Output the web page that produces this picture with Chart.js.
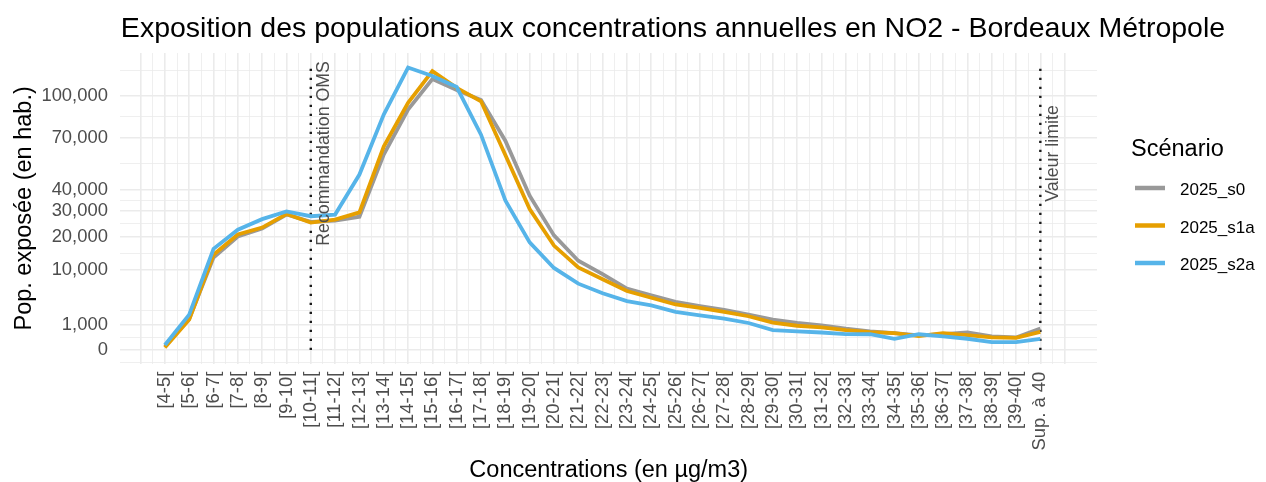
<!DOCTYPE html>
<html lang="fr">
<head>
<meta charset="utf-8">
<title>Exposition NO2 - Bordeaux Métropole</title>
<script src="https://cdn.jsdelivr.net/npm/chart.js@4.4.1/dist/chart.umd.min.js"></script>
<style>
  html, body { margin: 0; padding: 0; background: #ffffff; }
  #wrap { width: 1266px; height: 482px; }
</style>
</head>
<body>
<div id="wrap"><canvas id="expoChart" width="1266" height="482"></canvas></div>
<script>
// Classes de concentration annuelle en NO2 (µg/m3)
const classes = ['[4-5[', '[5-6[', '[6-7[', '[7-8[', '[8-9[', '[9-10[', '[10-11[', '[11-12[',
  '[12-13[', '[13-14[', '[14-15[', '[15-16[', '[16-17[', '[17-18[', '[18-19[', '[19-20[',
  '[20-21[', '[21-22[', '[22-23[', '[23-24[', '[24-25[', '[25-26[', '[26-27[', '[27-28[',
  '[28-29[', '[29-30[', '[30-31[', '[31-32[', '[32-33[', '[33-34[', '[34-35[', '[35-36[',
  '[36-37[', '[37-38[', '[38-39[', '[39-40[', 'Sup. à 40'];

// Population exposée (hab.) par scénario
const s0 = [20, 1500, 13300, 20000, 22900, 28500, 25500, 26000, 27600, 59300, 89700, 114000,
  105000, 97000, 68000, 37000, 20400, 12400, 8950, 5850, 4650, 3620, 3000, 2500, 1950, 1450,
  1150, 950, 710, 540, 450, 340, 400, 480, 290, 250, 720];
const s1a = [10, 1450, 14100, 20750, 23300, 28700, 25200, 26400, 29400, 64200, 94800, 120700,
  106700, 96000, 59000, 30900, 16960, 10600, 7800, 5420, 4250, 3230, 2760, 2260, 1780, 1170,
  920, 800, 620, 500, 450, 300, 450, 350, 250, 230, 520];
const s2a = [40, 1950, 15900, 22500, 26600, 29800, 27800, 28500, 47800, 86000, 123800, 116500,
  107300, 72000, 34700, 18000, 10470, 6850, 5020, 3720, 3090, 2260, 1880, 1540, 1140, 620,
  540, 480, 400, 390, 200, 390, 290, 200, 100, 100, 200];

const scenarioNames = ['2025_s0', '2025_s1a', '2025_s2a'];
const scenarioColors = ['#999999', '#E69F00', '#56B4E9'];

// Graduations de l'axe Y (échelle racine carrée)
const yBreaks = [0, 1000, 10000, 20000, 30000, 40000, 70000, 100000];
const yMinorBreaks = [-250, 250, 2400, 14600, 24700, 34800, 54000, 84400, 121000];

// Seuils réglementaires
const refLines = [
  { index: 6, label: 'Recommandation OMS' },
  { index: 36, label: 'Valeur limite' }
];
const refLabelValue = 60000;

const FONT = '"Liberation Sans", Arial, sans-serif';
const sq = v => Math.sign(v) * Math.sqrt(Math.abs(v));
const isMajorY = val => yBreaks.some(b => Math.abs(sq(b) - val) < 1e-6);

const seriesList = [s0, s1a, s2a];
const allValues = [].concat(s0, s1a, s2a);
const maxValue = Math.max(...allValues);

// Titre, seuils et légende dessinés sur le canvas
const decorPlugin = {
    id: 'decor',
    beforeDatasetsDraw(chart) {
        const ctx = chart.ctx;
        const xs = chart.scales.x, ys = chart.scales.y;
        ctx.save();
        ctx.strokeStyle = '#1a1a1a';
        ctx.lineWidth = 2.4;
        ctx.setLineDash([2.4, 6.6]);
        refLines.forEach(r => {
            const px = xs.getPixelForValue(r.index);
            ctx.beginPath();
            ctx.moveTo(px, ys.getPixelForValue(0));
            ctx.lineTo(px, ys.getPixelForValue(sq(maxValue)));
            ctx.stroke();
        });
        ctx.restore();
    },
    afterDraw(chart) {
        const ctx = chart.ctx;
        const xs = chart.scales.x, ys = chart.scales.y;
        ctx.save();
        // libellés des seuils
        ctx.fillStyle = '#4D4D4D';
        ctx.font = '17.8px ' + FONT;
        ctx.textAlign = 'center';
        ctx.textBaseline = 'middle';
        refLines.forEach(r => {
            const px = xs.getPixelForValue(r.index) + 13;
            const py = ys.getPixelForValue(sq(refLabelValue));
            ctx.save();
            ctx.translate(px, py);
            ctx.rotate(-Math.PI / 2);
            ctx.fillText(r.label, 0, 0);
            ctx.restore();
        });

        // titre
        ctx.fillStyle = '#000000';
        ctx.font = '28.5px ' + FONT;
        ctx.textAlign = 'center';
        ctx.textBaseline = 'alphabetic';
        ctx.fillText('Exposition des populations aux concentrations annuelles en NO2 - Bordeaux Métropole', 673, 37);

        // légende
        ctx.textAlign = 'left';
        ctx.font = '23.5px ' + FONT;
        ctx.fillText('Scénario', 1131, 156);
        ctx.font = '17px ' + FONT;
        scenarioNames.forEach((name, i) => {
            const y = 188 + i * 37.5;
            ctx.strokeStyle = scenarioColors[i];
            ctx.lineWidth = 4.5;
            ctx.beginPath();
            ctx.moveTo(1135, y);
            ctx.lineTo(1165, y);
            ctx.stroke();
            ctx.fillStyle = '#000000';
            ctx.fillText(name, 1180, y + 7);
        });
        ctx.restore();
    }
};

const expoChart = new Chart(document.getElementById('expoChart'), {
    type: 'line',
    data: {
        datasets: seriesList.map((serie, i) => ({
            label: scenarioNames[i],
            data: serie.map((v, k) => ({ x: k, y: sq(v) })),
            borderColor: scenarioColors[i],
            backgroundColor: scenarioColors[i],
            borderWidth: 3.8,
            pointRadius: 0,
            tension: 0,
            fill: false,
            order: 3 - i
        }))
    },
    options: {
        responsive: false,
        animation: false,
        devicePixelRatio: 1,
        layout: {
            padding: { top: 53, right: 169, left: 12.7, bottom: 0 }
        },
        plugins: {
            legend: { display: false },
            title: { display: false },
            tooltip: { enabled: false }
        },
        scales: {
            x: {
                type: 'linear',
                min: -1.83,
                max: 38.33,
                afterBuildTicks: axis => {
                    const t = [];
                    for (let v = -1; v <= 37; v += 0.5) t.push({ value: v });
                    axis.ticks = t;
                },
                grid: {
                    color: '#EBEBEB',
                    lineWidth: c => (c.tick && Number.isInteger(c.tick.value)) ? 1.6 : 0.8,
                    drawTicks: false
                },
                border: { display: false },
                ticks: {
                    autoSkip: false,
                    maxRotation: 90,
                    minRotation: 90,
                    padding: 8,
                    color: '#4D4D4D',
                    font: { size: 18.4, family: FONT },
                    callback: v => (Number.isInteger(v) && classes[v]) ? classes[v] : ''
                },
                title: {
                    display: true,
                    text: 'Concentrations (en µg/m3)',
                    color: '#000000',
                    font: { size: 23.5, family: FONT, lineHeight: 1.0 },
                    padding: { top: 0, bottom: 0 }
                }
            },
            y: {
                type: 'linear',
                min: -17,
                max: 370,
                afterBuildTicks: axis => {
                    axis.ticks = yBreaks.concat(yMinorBreaks)
                        .map(v => ({ value: sq(v) }))
                        .sort((a, b) => a.value - b.value);
                },
                grid: {
                    color: '#EBEBEB',
                    lineWidth: c => (c.tick && isMajorY(c.tick.value)) ? 1.6 : 0.8,
                    drawTicks: false
                },
                border: { display: false },
                ticks: {
                    autoSkip: false,
                    padding: 12.5,
                    color: '#4D4D4D',
                    font: { size: 18.4, family: FONT },
                    callback: v => isMajorY(v) ? Math.round(v * v).toLocaleString('en-US') : ''
                },
                title: {
                    display: true,
                    text: 'Pop. exposée (en hab.)',
                    color: '#000000',
                    font: { size: 23.5, family: FONT, lineHeight: 1.0 },
                    padding: { top: 0, bottom: -7.3 }
                }
            }
        }
    },
    plugins: [decorPlugin]
});
</script>
</body>
</html>
